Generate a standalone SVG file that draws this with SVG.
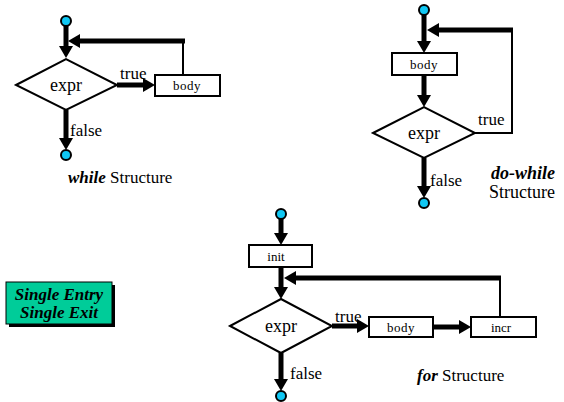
<svg xmlns="http://www.w3.org/2000/svg" width="564" height="402" viewBox="0 0 564 402">
<style>
.thick{fill:none;stroke:#000;stroke-width:5}
.thin{fill:none;stroke:#000;stroke-width:2}
.arr{marker-end:url(#ah)}
.shape{fill:#fff;stroke:#000;stroke-width:2}
.term{fill:#10C8F4;stroke:#000;stroke-width:2}
text{font-family:'Liberation Serif','Times New Roman',Times,serif;fill:#000}
.lbl{font-size:17px}
.box{font-size:13px;text-anchor:middle}
.expr{font-size:18px;text-anchor:middle}
.bi{font-weight:bold;font-style:italic}
</style>
<defs>
<marker id="ah" markerUnits="userSpaceOnUse" markerWidth="14" markerHeight="14" refX="2" refY="7" orient="auto" viewBox="0 0 14 14">
<path d="M0,0 L12,7 L0,14 z" fill="#000"/>
</marker>
</defs>

<g id="connectors">
<path class="thick arr" d="M66,25 V48"/>
<path class="thick arr" d="M117,85 H145"/>
<path class="thin" d="M183,75 V41"/>
<path class="thick arr" d="M185,41 H78"/>
<path class="thick arr" d="M66,110 V140"/>
<path class="thick arr" d="M424,14 V43"/>
<path class="thick arr" d="M424,75 V97"/>
<path class="thin" d="M475,133 H512 V30"/>
<path class="thick arr" d="M513,30 H437"/>
<path class="thick arr" d="M424,158 V188"/>
<path class="thick arr" d="M281,218 V235"/>
<path class="thick arr" d="M281,267 V289"/>
<path class="thick arr" d="M332,326 H359"/>
<path class="thick arr" d="M433,327 H461"/>
<path class="thin" d="M500,317 V278"/>
<path class="thick arr" d="M501,278 H294"/>
<path class="thick arr" d="M281,353 V381"/>
</g>

<g id="while-entry"><circle class="term" cx="66" cy="21" r="5"/></g>
<g id="while-expr">
<polygon class="shape" points="16,85 66,59 117,85 66,110"/>
<text class="expr" x="66" y="91" font-family="Liberation Serif, serif">expr</text>
</g>
<g id="while-body">
<rect class="shape" x="155" y="75" width="65" height="21"/>
<text class="box" x="187" y="90" letter-spacing="0.5">body</text>
</g>
<g id="while-exit"><circle class="term" cx="66" cy="155" r="5"/></g>
<g id="while-labels">
<text class="lbl" x="120" y="79">true</text>
<text class="lbl" x="70" y="136">false</text>
<text class="lbl" x="68" y="183"><tspan class="bi">while</tspan> Structure</text>
</g>

<g id="dowhile-entry"><circle class="term" cx="424" cy="10" r="5"/></g>
<g id="dowhile-body">
<rect class="shape" x="392" y="53" width="65" height="22"/>
<text class="box" x="424" y="69" letter-spacing="0.5">body</text>
</g>
<g id="dowhile-expr">
<polygon class="shape" points="373,133 424,107 475,133 424,158"/>
<text class="expr" x="424" y="139">expr</text>
</g>
<g id="dowhile-exit"><circle class="term" cx="424" cy="203" r="5"/></g>
<g id="dowhile-labels">
<text class="lbl" x="478" y="125">true</text>
<text class="lbl" x="430" y="186">false</text>
<text class="bi" font-size="18" x="491" y="179">do-while</text>
<text font-size="18" x="489" y="198">Structure</text>
</g>

<g id="for-entry"><circle class="term" cx="281" cy="214" r="5"/></g>
<g id="for-init">
<rect class="shape" x="249" y="245" width="63" height="22"/>
<text class="box" x="276" y="261">init</text>
</g>
<g id="for-expr">
<polygon class="shape" points="230,326 281,299 332,326 281,353"/>
<text class="expr" x="281" y="332">expr</text>
</g>
<g id="for-body">
<rect class="shape" x="369" y="317" width="64" height="20"/>
<text class="box" x="401" y="332" letter-spacing="0.5">body</text>
</g>
<g id="for-incr">
<rect class="shape" x="471" y="317" width="65" height="20"/>
<text class="box" x="501" y="332">incr</text>
</g>
<g id="for-exit"><circle class="term" cx="281" cy="396" r="5"/></g>
<g id="for-labels">
<text class="lbl" x="335" y="322">true</text>
<text class="lbl" x="290" y="379">false</text>
<text font-size="17" x="417" y="381"><tspan class="bi">for</tspan> Structure</text>
</g>

<g id="single-entry-exit">
<rect x="9" y="285" width="106" height="42" fill="#000"/>
<rect x="6" y="282" width="106" height="42" fill="#00CC99" stroke="#000" stroke-width="1"/>
<text class="bi" font-size="17" text-anchor="middle" x="59" y="300">Single Entry</text>
<text class="bi" font-size="17" text-anchor="middle" x="59" y="318">Single Exit</text>
</g>
</svg>
